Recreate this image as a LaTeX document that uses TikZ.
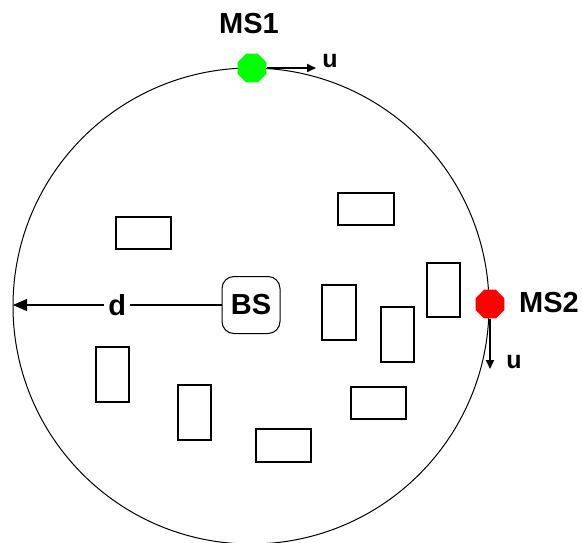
\documentclass[tikz,border=0pt]{standalone}
\usepackage{fontspec}
\setmainfont{Liberation Sans}
\usetikzlibrary{shapes.geometric,arrows.meta}
\begin{document}
\begin{tikzpicture}[x=1pt,y=-1pt,
  lbl/.style={font=\fontsize{29}{31}\selectfont\bfseries, inner sep=0pt},
  small/.style={font=\fontsize{25}{27}\selectfont\bfseries, inner sep=0pt},
  obstacle/.style={draw, line width=1.3pt},
  station/.style={regular polygon, regular polygon sides=8, minimum size=31pt, inner sep=0pt},
  move/.style={-{Triangle[length=9pt,width=8pt]}, line width=1.8pt},
]
\useasboundingbox (0,0) rectangle (582,542);
% coverage area
\draw[line width=1pt] (251,306) circle (238);
% obstacles
\draw[obstacle] (116,217) rectangle (171,249);
\draw[obstacle] (338,193) rectangle (394,225);
\draw[obstacle] (427,263) rectangle (460,317);
\draw[obstacle] (322,285) rectangle (356,340);
\draw[obstacle] (381,307) rectangle (414,362);
\draw[obstacle] (96,347) rectangle (129,402);
\draw[obstacle] (178,385) rectangle (211,440);
\draw[obstacle] (351,387) rectangle (406,419);
\draw[obstacle] (256,429) rectangle (311,462);
% base station and radius
\node[draw, line width=1pt, rounded corners=12pt, minimum width=58pt, minimum height=57pt, inner sep=0pt, font=\fontsize{29}{31}\selectfont\bfseries] (bs) at (251,305) {BS};
\coordinate (edge) at (13,305);
\draw[-{Triangle[length=14pt,width=12pt]}, line width=1.1pt] (bs.west) -- node[fill=white, lbl, inner xsep=4pt] {d} (edge);
% mobile stations
\node[station, fill=green] (ms1) at (252,68) {};
\node[lbl] (ms1l) at (249,24) {MS1};
\coordinate (u1) at (316,68);
\draw[move] (ms1.east) -- (u1);
\node[small] (u1l) at (330,61) {u};
\node[station, fill=red] (ms2) at (490,304) {};
\node[lbl] (ms2l) at (549,303) {MS2};
\coordinate (u2) at (490,369);
\draw[move] (ms2.south) -- (u2);
\node[small] (u2l) at (514,362) {u};
\end{tikzpicture}
\end{document}
